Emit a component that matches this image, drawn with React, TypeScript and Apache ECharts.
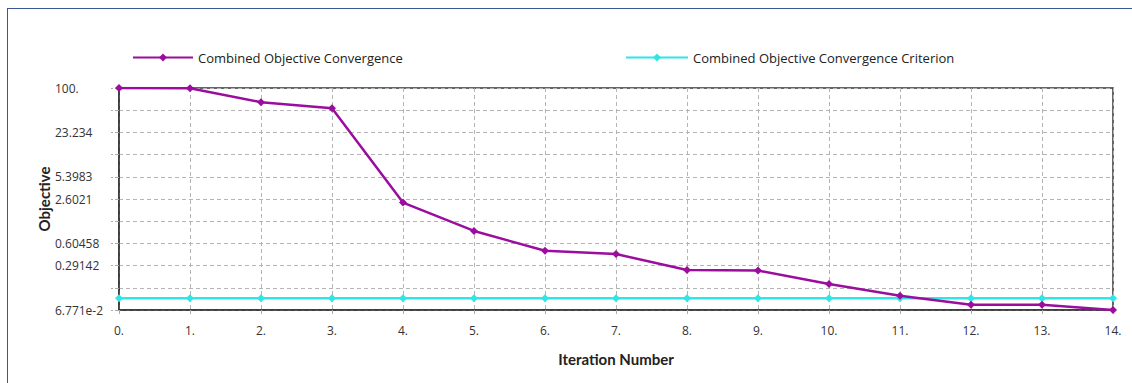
import React, { useEffect, useRef } from "react";
import * as echarts from "echarts";

const iterations = [0, 1, 2, 3, 4, 5, 6, 7, 8, 9, 10, 11, 12, 13, 14];
const objective = [100, 99, 62.7, 51.4, 2.31, 0.91, 0.475, 0.426, 0.252, 0.248, 0.159, 0.108, 0.0807, 0.0805, 0.06771];
const criterion = [0.1, 0.1, 0.1, 0.1, 0.1, 0.1, 0.1, 0.1, 0.1, 0.1, 0.1, 0.1, 0.1, 0.1, 0.1];
const yMinValue = 0.06771;
const yMaxValue = 100;
const yDivisions = 10;
// tick labels from bottom division to top
const yTickLabels = ["6.771e-2", "", "0.29142", "0.60458", "", "2.6021", "5.3983", "", "23.234", "", "100."];
const seriesNames = ["Combined Objective Convergence", "Combined Objective Convergence Criterion"];

const logSpan = Math.log10(yMaxValue / yMinValue);
const toAxis = (v: number) => (Math.log10(v / yMinValue) / logSpan) * yDivisions;

export default function App() {
  const ref = useRef<HTMLDivElement>(null);
  useEffect(() => {
    if (!ref.current) return;
    const chart = echarts.init(ref.current, null, { renderer: "svg" });
    const font = "'Open Sans', 'Noto Sans', sans-serif";
    const gridLine = { show: true, lineStyle: { color: "#b4b4b4", width: 1, type: [4, 3] as any } };
    chart.setOption({
      animation: false,
      backgroundColor: "#ffffff",
      textStyle: { fontFamily: font },
      legend: [
        {
          data: [seriesNames[0]],
          left: 127,
          top: 46,
          itemWidth: 60,
          itemHeight: 10,
          itemGap: 5,
          textStyle: { fontSize: 13, color: "#222", fontFamily: font },
        },
        {
          data: [seriesNames[1]],
          left: 620,
          top: 46,
          itemWidth: 62,
          itemHeight: 10,
          itemGap: 5,
          textStyle: { fontSize: 13, color: "#222", fontFamily: font },
        },
      ],
      grid: {
        left: 119,
        right: 19,
        top: 88,
        bottom: 73,
        show: true,
        backgroundColor: "#ffffff",
        borderColor: "#333",
        borderWidth: 1.5,
      },
      xAxis: {
        type: "value",
        min: 0,
        max: 14,
        interval: 1,
        name: "Iteration Number",
        nameLocation: "middle",
        nameGap: 41,
        nameTextStyle: { fontFamily: "Lato", fontWeight: "bold", fontSize: 15, color: "#222" },
        axisLine: { show: true, lineStyle: { color: "#333", width: 1.5 } },
        axisTick: { show: true, length: 5, lineStyle: { color: "#aaa", type: "dashed" } },
        axisLabel: { margin: 14, fontSize: 12, color: "#333", formatter: (v: number) => `${v}.` },
        splitLine: gridLine,
      },
      yAxis: {
        type: "value",
        min: 0,
        max: yDivisions,
        interval: 1,
        name: "Objective",
        nameLocation: "middle",
        nameRotate: 90,
        nameGap: 68,
        nameMoveOverlap: false,
        nameTextStyle: { fontFamily: "Lato", fontWeight: "bold", fontSize: 15, color: "#222" },
        axisLine: { show: true, lineStyle: { color: "#333", width: 1.5 } },
        axisTick: { show: true, length: 8, lineStyle: { color: "#aaa", type: "dashed" } },
        axisLabel: {
          margin: 64,
          align: "left",
          fontSize: 12,
          color: "#333",
          formatter: (v: number) => yTickLabels[Math.round(v)] ?? "",
        },
        splitLine: gridLine,
      },
      series: [
        {
          name: seriesNames[0],
          type: "line",
          data: iterations.map((x, i) => [x, toAxis(objective[i])]),
          symbol: "diamond",
          symbolSize: 8,
          lineStyle: { color: "#9b0d9e", width: 2.5 },
          itemStyle: { color: "#9b0d9e" },
          z: 3,
        },
        {
          name: seriesNames[1],
          type: "line",
          data: iterations.map((x, i) => [x, toAxis(criterion[i])]),
          symbol: "diamond",
          symbolSize: 8,
          lineStyle: { color: "#2ee6e6", width: 2.5 },
          itemStyle: { color: "#2ee6e6" },
          z: 2,
        },
      ],
    });
    return () => chart.dispose();
  }, []);
  return (
    <div style={{ position: "fixed", left: 0, top: 0, width: 1132, height: 383, overflow: "hidden", background: "#fff" }}>
      <div ref={ref} style={{ position: "absolute", left: 0, top: 0, width: 1132, height: 383 }} />
      <div
        style={{
          position: "absolute",
          left: 7,
          top: 8,
          width: 1300,
          height: 500,
          borderTop: "1px solid #3a5894",
          borderLeft: "1px solid #3a5894",
          pointerEvents: "none",
        }}
      />
    </div>
  );
}
